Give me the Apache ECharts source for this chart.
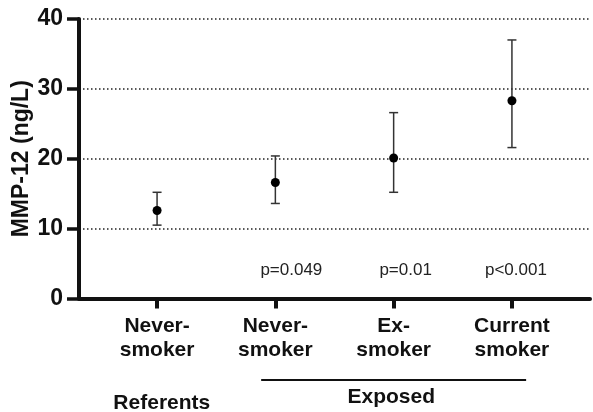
<!DOCTYPE html>
<html><head><meta charset="utf-8">
<script src="https://cdn.jsdelivr.net/npm/echarts@6/dist/echarts.min.js"></script>
<style>html,body{margin:0;padding:0;background:#fff}#c{width:593px;height:412px}</style>
</head><body><div id="c"></div>
<script>
var categories = ['Never-\nsmoker', 'Never-\nsmoker', 'Ex-\nsmoker', 'Current\nsmoker'];
var meanValues = [12.6, 16.6, 20.1, 28.3];
var lowerValues = [10.5, 13.6, 15.2, 21.6];
var upperValues = [15.2, 20.4, 26.6, 37.0];
var pLabels = ['', 'p=0.049', 'p=0.01', 'p<0.001'];
var yTicks = [0, 10, 20, 30, 40];

var FONT = '"Liberation Sans", Arial, sans-serif';
var positions = categories.map(function (_, i) { return i + 1; });
var errData = positions.map(function (p, i) { return [p, meanValues[i], lowerValues[i], upperValues[i]]; });
var ptData = positions.map(function (p, i) { return [p, meanValues[i]]; });

var chart = echarts.init(document.getElementById('c'), null, {renderer: 'canvas'});
chart.setOption({
  backgroundColor: '#fff',
  animation: false,
  grid: {left: 79, right: 3, top: 19, bottom: 113.5, outerBoundsMode: 'none', containLabel: false},
  xAxis: {
    type: 'value', min: 0.34, max: 4.66,
    splitLine: {show: false},
    axisLine: {show: true, onZero: false, lineStyle: {color: '#111', width: 4}},
    axisTick: {show: true, length: 10, customValues: positions, lineStyle: {color: '#111', width: 4}},
    axisLabel: {
      customValues: positions, margin: 16,
      formatter: function (v) { return categories[Math.round(v) - 1] || ''; },
      color: '#111', fontFamily: FONT, fontWeight: 'bold', fontSize: 21, lineHeight: 24
    }
  },
  yAxis: {
    type: 'value', min: 0, max: 40, interval: 10,
    name: 'MMP-12 (ng/L)', nameLocation: 'middle', nameGap: 46, nameMoveOverlap: false,
    nameTextStyle: {color: '#111', fontFamily: FONT, fontWeight: 'bold', fontSize: 23},
    axisLine: {show: true, lineStyle: {color: '#111', width: 4}},
    axisTick: {show: true, length: 12, lineStyle: {color: '#111', width: 3.5}},
    axisLabel: {color: '#111', fontFamily: FONT, fontWeight: 'bold', fontSize: 23, margin: 16,
      formatter: function (v) { return yTicks.indexOf(v) >= 0 ? String(v) : ''; }},
    splitLine: {show: true, lineStyle: {color: '#222', width: 1.5, type: [1.5, 2.5]}}
  },
  series: [
    {
      type: 'custom',
      data: errData,
      renderItem: function (params, api) {
        var x = api.value(0);
        var lo = api.coord([x, api.value(2)]);
        var hi = api.coord([x, api.value(3)]);
        var cw = 4.5;
        var st = {stroke: '#333', lineWidth: 1.5, fill: null};
        return {type: 'group', children: [
          {type: 'line', shape: {x1: lo[0], y1: lo[1], x2: hi[0], y2: hi[1]}, style: st},
          {type: 'line', shape: {x1: lo[0] - cw, y1: lo[1], x2: lo[0] + cw, y2: lo[1]}, style: st},
          {type: 'line', shape: {x1: hi[0] - cw, y1: hi[1], x2: hi[0] + cw, y2: hi[1]}, style: st}
        ]};
      },
      z: 3
    },
    {
      type: 'scatter', data: ptData, symbol: 'circle', symbolSize: 9,
      itemStyle: {color: '#000', opacity: 1}, z: 4
    }
  ]
});

function px(x, y) { return chart.convertToPixel({gridIndex: 0}, [x, y]); }
var g = [];
var pOffsets = [0, 16, 12, 4];
for (var i = 0; i < pLabels.length; i++) {
  if (!pLabels[i]) continue;
  var p = px(positions[i], 4.1);
  g.push({type: 'text', x: p[0] + pOffsets[i], y: p[1], style: {text: pLabels[i], fill: '#222',
    font: '17px ' + FONT, textAlign: 'center', textVerticalAlign: 'middle'}});
}
var l1 = px(1.88, 0), l2 = px(4.12, 0);
g.push({type: 'line', shape: {x1: l1[0], y1: 380, x2: l2[0], y2: 380}, style: {stroke: '#111', lineWidth: 2}});
var ex = px(2.98, 0);
g.push({type: 'text', x: ex[0], y: 397, style: {text: 'Exposed', fill: '#111', font: 'bold 21px ' + FONT, textAlign: 'center', textVerticalAlign: 'middle'}});
var rf = px(1.04, 0);
g.push({type: 'text', x: rf[0], y: 403, style: {text: 'Referents', fill: '#111', font: 'bold 21px ' + FONT, textAlign: 'center', textVerticalAlign: 'middle'}});
chart.setOption({graphic: g});
</script>
</body></html>
